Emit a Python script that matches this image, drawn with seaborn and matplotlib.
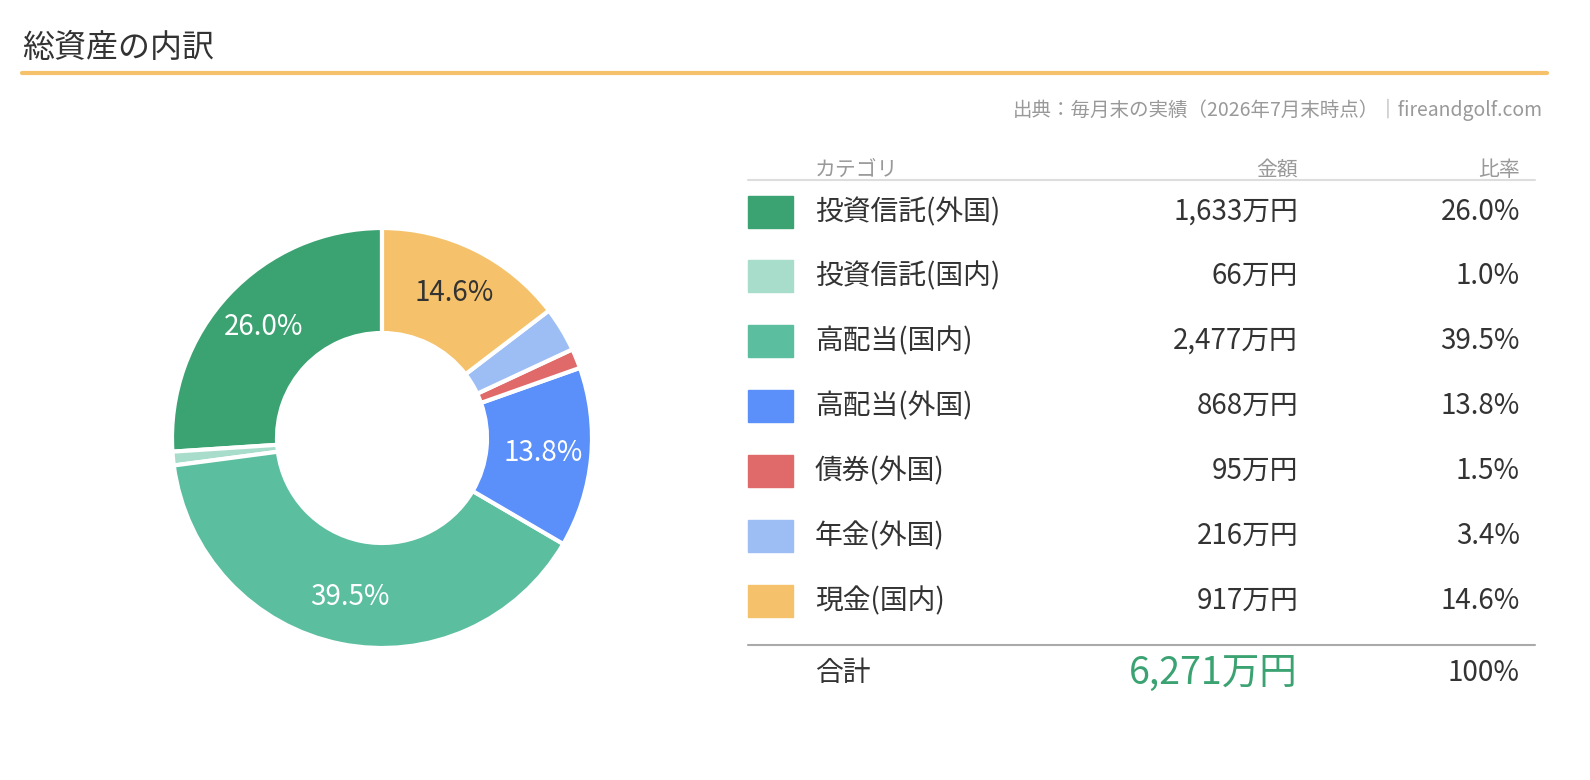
import matplotlib
matplotlib.use("Agg")
import matplotlib.pyplot as plt
import seaborn as sns
from matplotlib.patches import Rectangle
from matplotlib.lines import Line2D

categories = ["投資信託(外国)", "投資信託(国内)", "高配当(国内)", "高配当(外国)", "債券(外国)", "年金(外国)", "現金(国内)"]
amounts = [1633, 66, 2477, 868, 95, 216, 917]
ratios = [26.0, 1.0, 39.5, 13.8, 1.5, 3.4, 14.6]
colors = ["#3BA272", "#A8DCCB", "#5BBE9F", "#5B8FF9", "#E06A6A", "#9DBDF5", "#F5C26B"]
total_label = "6,271万円"

sns.set_theme(style="white")
plt.rcParams['font.family'] = ['Noto Sans CJK JP', 'DejaVu Sans']

W, H = 1590, 780
fig = plt.figure(figsize=(15.9, 7.8), dpi=100)
def fx(x): return x / W
def fy(y): return 1 - y / H

# title
fig.text(fx(22), fy(48), "総資産の内訳", fontsize=23, color="#333333", va="center", ha="left")
fig.add_artist(Line2D([fx(22), fx(1547)], [fy(73), fy(73)], color="#F5C26B", lw=3))
fig.text(fx(1543), fy(110), "出典：毎月末の実績（2026年7月末時点）｜fireandgolf.com", fontsize=14,
         color="#999999", ha="right", va="center")

# donut
ax = fig.add_axes([fx(172), fy(648), 420 / W, 420 / H])
wedges, _ = ax.pie(amounts, colors=colors, startangle=90, counterclock=True,
                   wedgeprops=dict(width=0.5, edgecolor="white", linewidth=3))
import numpy as np
for w, r in zip(wedges, ratios):
    if r < 10:
        continue
    ang = np.deg2rad((w.theta1 + w.theta2) / 2)
    d = 0.77
    c = "#333333" if w.get_facecolor()[:3] == matplotlib.colors.to_rgb("#F5C26B") else "white"
    ax.text(d * np.cos(ang), d * np.sin(ang), f"{r:.1f}%", ha="center", va="center", fontsize=20, color=c)
ax.set_xlim(-1, 1); ax.set_ylim(-1, 1); ax.set_aspect("equal"); ax.axis("off")

# table
fig.text(fx(815), fy(170), "カテゴリ", fontsize=15, color="#999999", va="center")
fig.text(fx(1298), fy(170), "金額", fontsize=15, color="#999999", va="center", ha="right")
fig.text(fx(1520), fy(170), "比率", fontsize=15, color="#999999", va="center", ha="right")
fig.add_artist(Line2D([fx(748), fx(1535)], [fy(180), fy(180)], color="#dddddd", lw=1.5))
ys = [212, 276, 341, 406, 471, 536, 601]
for y, cat, a, r, c in zip(ys, categories, amounts, ratios, colors):
    fig.add_artist(Rectangle((fx(748), fy(y + 16)), 45 / W, 32 / H, color=c, transform=fig.transFigure))
    fig.text(fx(815), fy(y), cat, fontsize=20, color="#333333", va="center")
    fig.text(fx(1298), fy(y), f"{a:,}万円", fontsize=20, color="#333333", va="center", ha="right")
    fig.text(fx(1520), fy(y), f"{r:.1f}%", fontsize=20, color="#333333", va="center", ha="right")
fig.add_artist(Line2D([fx(748), fx(1535)], [fy(645), fy(645)], color="#aaaaaa", lw=1.5))
fig.text(fx(815), fy(673), "合計", fontsize=20, color="#333333", va="center")
fig.text(fx(1298), fy(673), total_label, fontsize=27, color="#3BA272", va="center", ha="right")
fig.text(fx(1520), fy(673), "100%", fontsize=20, color="#333333", va="center", ha="right")

fig.savefig("out.png", dpi=100, facecolor="white")
